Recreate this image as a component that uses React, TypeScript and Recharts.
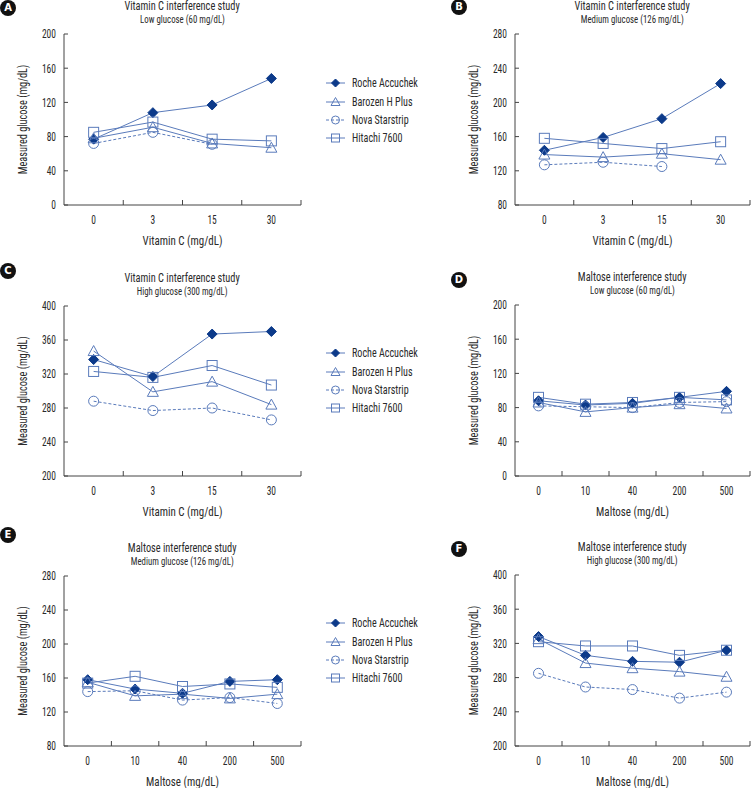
import { LineChart, Line, XAxis, YAxis, Legend } from "recharts";

const FONT = "'Roboto Condensed', Roboto, 'Noto Sans', sans-serif";
const LINE = "#5a7bbb";
const NAVY = "#0c3a8a";
const AXIS = "#444";
const TEXT = "#2a2a2a";
const X_AXIS_H = 48;

const vitaminCLevels = ["0", "3", "15", "30"];
const maltoseLevels = ["0", "10", "40", "200", "500"];

// Vitamin C, low glucose (60 mg/dL)
const vcLowRoche = [77, 108, 117, 148];
const vcLowBarozen = [78, 91, 72, 67];
const vcLowNova = [72, 85, 71, null];
const vcLowHitachi = [85, 97, 77, 75];

// Vitamin C, medium glucose (126 mg/dL)
const vcMedRoche = [144, 159, 181, 222];
const vcMedBarozen = [139, 136, 140, 133];
const vcMedNova = [127, 130, 125, null];
const vcMedHitachi = [158, 152, 146, 154];

// Vitamin C, high glucose (300 mg/dL)
const vcHighRoche = [337, 317, 367, 370];
const vcHighBarozen = [347, 299, 311, 284];
const vcHighNova = [288, 277, 280, 266];
const vcHighHitachi = [323, 316, 330, 307];

// Maltose, low glucose
const mLowRoche = [88, 83, 85, 92, 99];
const mLowBarozen = [86, 75, 80, 84, 79];
const mLowNova = [82, 81, 80, 86, 87];
const mLowHitachi = [92, 84, 86, 92, 89];

// Maltose, medium glucose
const mMedRoche = [158, 147, 142, 156, 158];
const mMedBarozen = [155, 139, 141, 136, 141];
const mMedNova = [144, 145, 134, 137, 130];
const mMedHitachi = [154, 162, 150, 153, 149];

// Maltose, high glucose
const mHighRoche = [328, 306, 299, 298, 312];
const mHighBarozen = [325, 297, 291, 287, 281];
const mHighNova = [285, 269, 266, 256, 263];
const mHighHitachi = [322, 317, 317, 306, 312];

const lowTicks = [0, 40, 80, 120, 160, 200];
const medTicks = [80, 120, 160, 200, 240, 280];
const highTicks = [200, 240, 280, 320, 360, 400];

const series = [
  { key: "roche", name: "Roche Accuchek", shape: "diamond", dash: undefined },
  { key: "barozen", name: "Barozen H Plus", shape: "triangle", dash: undefined },
  { key: "nova", name: "Nova Starstrip", shape: "circle", dash: "3 2" },
  { key: "hitachi", name: "Hitachi 7600", shape: "square", dash: undefined },
];

function buildRows(levels: string[], roche: any[], barozen: any[], nova: any[], hitachi: any[]) {
  return levels.map((x, i) => ({
    x,
    roche: roche[i],
    barozen: barozen[i],
    nova: nova[i],
    hitachi: hitachi[i],
  }));
}

// squeeze svg text horizontally around its anchor x
const squeezeAt = (x: number, k: number) => `matrix(${k},0,0,1,${x * (1 - k)},0)`;

function Marker({ shape, cx, cy, size = 5 }: any) {
  if (cx == null || cy == null || isNaN(cx) || isNaN(cy)) return <g />;
  const s = size;
  if (shape === "diamond") {
    return (
      <polygon
        points={`${cx},${cy - s} ${cx + s},${cy} ${cx},${cy + s} ${cx - s},${cy}`}
        fill={NAVY}
        stroke={NAVY}
      />
    );
  }
  if (shape === "triangle") {
    return (
      <polygon
        points={`${cx},${cy - s - 0.5} ${cx + s + 0.5},${cy + s - 0.5} ${cx - s - 0.5},${cy + s - 0.5}`}
        fill="none"
        stroke={LINE}
      />
    );
  }
  if (shape === "circle") {
    return <circle cx={cx} cy={cy} r={s} fill="none" stroke={LINE} />;
  }
  return <rect x={cx - s} y={cy - s} width={s * 2} height={s * 2} fill="none" stroke={LINE} />;
}

function CatTick(props: any) {
  const { x, y, payload, band } = props;
  const half = payload.offset || band / 2;
  return (
    <g>
      <line x1={x + half} x2={x + half} y1={y} y2={y - 5} stroke={AXIS} />
      <text x={x} y={y + 10} dy="0.71em" textAnchor="middle" fill={TEXT} fontSize={12.5} transform={squeezeAt(x, 0.76)}>
        {payload.value}
      </text>
    </g>
  );
}

function ValueTick(props: any) {
  const { x, y, payload } = props;
  return (
    <text x={x} y={y} dy="0.355em" textAnchor="end" fill={TEXT} fontSize={12.5} transform={squeezeAt(x, 0.76)}>
      {payload.value}
    </text>
  );
}

function XTitle({ viewBox, value }: any) {
  if (!viewBox) return null;
  const cx = viewBox.x + viewBox.width / 2;
  const by = viewBox.y + 40;
  return (
    <text x={cx} y={by} textAnchor="middle" fill={TEXT} fontSize={12.5} transform={squeezeAt(cx, 0.88)}>
      {value}
    </text>
  );
}

function YTitle({ viewBox, value }: any) {
  if (!viewBox) return null;
  const cx = viewBox.x + 19;
  const cy = viewBox.y + viewBox.height / 2;
  return (
    <text
      x={0}
      y={0}
      textAnchor="middle"
      dominantBaseline="central"
      fill={TEXT}
      fontSize={12.5}
      transform={`translate(${cx},${cy}) rotate(-90) scale(0.82,1)`}
    >
      {value}
    </text>
  );
}

function Squeezed({ children, k, origin = "left center" }: any) {
  return (
    <span style={{ display: "inline-block", transform: `scaleX(${k})`, transformOrigin: origin, whiteSpace: "nowrap" }}>
      {children}
    </span>
  );
}

function LegendList(props: any) {
  const entries = [...(props.payload ?? [])].sort(
    (a: any, b: any) =>
      series.findIndex((s) => s.key === a.dataKey) - series.findIndex((s) => s.key === b.dataKey)
  );
  return (
    <div style={{ fontFamily: FONT }}>
      {entries.map((e: any) => {
        const s = series.find((d) => d.key === e.dataKey) || series[0];
        return (
          <div key={s.key} style={{ display: "flex", alignItems: "center", height: 18.4, whiteSpace: "nowrap" }}>
            <svg width={19} height={12} style={{ flex: "none" }}>
              <line x1={0} x2={19} y1={6} y2={6} stroke={LINE} strokeDasharray={s.dash} />
              <Marker shape={s.shape} cx={9.5} cy={6} size={4} />
            </svg>
            <span style={{ marginLeft: 7, fontSize: 12, color: TEXT }}>
              <Squeezed k={0.84}>{e.value}</Squeezed>
            </span>
          </div>
        );
      })}
    </div>
  );
}

const panels = [
  {
    id: "A", title: "Vitamin C interference study", subtitle: "Low glucose (60 mg/dL)",
    xLabel: "Vitamin C (mg/dL)", rows: buildRows(vitaminCLevels, vcLowRoche, vcLowBarozen, vcLowNova, vcLowHitachi),
    ticks: lowTicks, left: 0, top: 0, plotH: 171, right: 74, legend: true, legendTop: 74, badge: [8, 8],
  },
  {
    id: "B", title: "Vitamin C interference study", subtitle: "Medium glucose (126 mg/dL)",
    xLabel: "Vitamin C (mg/dL)", rows: buildRows(vitaminCLevels, vcMedRoche, vcMedBarozen, vcMedNova, vcMedHitachi),
    ticks: medTicks, left: 451, top: 0, plotH: 171, right: 1, legend: false, legendTop: 0, badge: [459, 7],
  },
  {
    id: "C", title: "Vitamin C interference study", subtitle: "High glucose (300 mg/dL)",
    xLabel: "Vitamin C (mg/dL)", rows: buildRows(vitaminCLevels, vcHighRoche, vcHighBarozen, vcHighNova, vcHighHitachi),
    ticks: highTicks, left: 0, top: 272, plotH: 170, right: 74, legend: true, legendTop: 72, badge: [8, 271],
  },
  {
    id: "D", title: "Maltose interference study", subtitle: "Low glucose (60 mg/dL)",
    xLabel: "Maltose (mg/dL)", rows: buildRows(maltoseLevels, mLowRoche, mLowBarozen, mLowNova, mLowHitachi),
    ticks: lowTicks, left: 451, top: 271, plotH: 171, right: 1, legend: false, legendTop: 0, badge: [459, 280],
  },
  {
    id: "E", title: "Maltose interference study", subtitle: "Medium glucose (126 mg/dL)",
    xLabel: "Maltose (mg/dL)", rows: buildRows(maltoseLevels, mMedRoche, mMedBarozen, mMedNova, mMedHitachi),
    ticks: medTicks, left: 0, top: 542, plotH: 170, right: 74, legend: true, legendTop: 72, badge: [8, 535],
  },
  {
    id: "F", title: "Maltose interference study", subtitle: "High glucose (300 mg/dL)",
    xLabel: "Maltose (mg/dL)", rows: buildRows(maltoseLevels, mHighRoche, mHighBarozen, mHighNova, mHighHitachi),
    ticks: highTicks, left: 451, top: 541, plotH: 171, right: 1, legend: false, legendTop: 0, badge: [459, 549],
  },
];

function Panel({ p }: any) {
  const width = p.left === 0 ? 375 : 300;
  const height = 34 + p.plotH + X_AXIS_H;
  const plotW = width - 64 - p.right;
  const band = plotW / p.rows.length;
  const centerX = 64 + plotW / 2;
  return (
    <div style={{ position: "absolute", left: p.left, top: p.top, width, height }}>
      <div
        style={{
          position: "absolute", left: centerX - 110, width: 220, top: 0,
          textAlign: "center", color: TEXT, fontSize: 12, lineHeight: "13px",
        }}
      >
        <Squeezed k={0.86} origin="center">{p.title}</Squeezed>
      </div>
      <div
        style={{
          position: "absolute", left: centerX - 110, width: 220, top: 14,
          textAlign: "center", color: TEXT, fontSize: 10.5, lineHeight: "12px",
        }}
      >
        <Squeezed k={0.84} origin="center">{p.subtitle}</Squeezed>
      </div>
      <LineChart width={width} height={height} data={p.rows} margin={{ top: 34, right: p.right, bottom: 0, left: 4 }}>
        <XAxis
          dataKey="x"
          scale="band"
          height={X_AXIS_H}
          interval={0}
          tickSize={0}
          tickMargin={0}
          tickLine={false}
          axisLine={{ stroke: AXIS }}
          tick={(t: any) => <CatTick {...t} band={band} />}
          label={{ value: p.xLabel, content: (lp: any) => <XTitle viewBox={lp.viewBox} value={p.xLabel} /> }}
        />
        <YAxis
          width={60}
          type="number"
          domain={[p.ticks[0], p.ticks[p.ticks.length - 1]]}
          ticks={p.ticks}
          interval={0}
          tickSize={-4}
          tickMargin={12}
          axisLine={{ stroke: AXIS }}
          tickLine={{ stroke: AXIS }}
          tick={(t: any) => <ValueTick {...t} />}
          label={{
            value: "Measured glucose (mg/dL)",
            content: (lp: any) => <YTitle viewBox={lp.viewBox} value="Measured glucose (mg/dL)" />,
          }}
        />
        {series.map((s) => (
          <Line
            key={s.key}
            dataKey={s.key}
            name={s.name}
            stroke={LINE}
            strokeWidth={1}
            strokeDasharray={s.dash}
            isAnimationActive={false}
            dot={(d: any) => <Marker key={`${s.key}-${d.index}`} shape={s.shape} cx={d.cx} cy={d.cy} />}
            activeDot={false}
          />
        ))}
        {p.legend && (
          <Legend
            layout="vertical"
            align="center"
            verticalAlign="middle"
            wrapperStyle={{ left: 326, top: p.legendTop, width: 120 }}
            content={(lp: any) => <LegendList {...lp} />}
          />
        )}
      </LineChart>
    </div>
  );
}

export default function App() {
  return (
    <div
      style={{
        position: "absolute", left: 0, top: 0, width: 751, height: 788,
        background: "#fff", overflow: "hidden", fontFamily: FONT,
      }}
    >
      {panels.map((p) => (
        <Panel key={p.id} p={p} />
      ))}
      {panels.map((p) => (
        <div
          key={`badge-${p.id}`}
          style={{
            position: "absolute", left: p.badge[0] - 8, top: p.badge[1] - 8, width: 16, height: 16,
            borderRadius: 8, background: "#111", color: "#fff", fontFamily: "'DejaVu Sans', sans-serif",
            fontWeight: "bold", fontSize: 10, lineHeight: "16px", textAlign: "center",
          }}
        >
          {p.id}
        </div>
      ))}
    </div>
  );
}
